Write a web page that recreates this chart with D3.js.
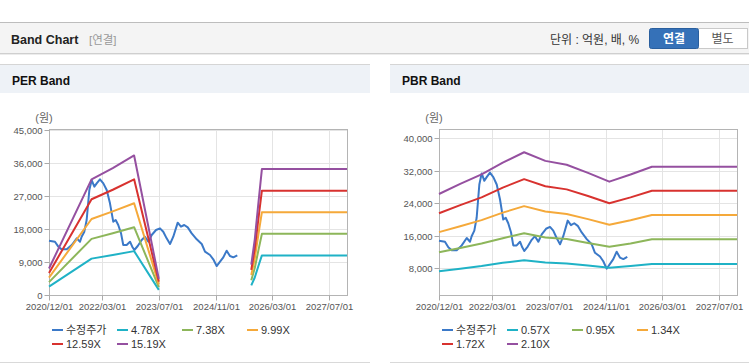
<!DOCTYPE html>
<html>
<head>
<meta charset="utf-8">
<script src="https://cdn.jsdelivr.net/npm/d3@7"></script>
<style>
  body { margin: 0; background: #fff; }
  svg { display: block; font-family: "Liberation Sans", Arial, "Noto Sans CJK KR", sans-serif; }
  .tick text { fill: #555; font-size: 9.5px; }
  .tick line { stroke: #aaa; }
  .legend text { fill: #333; font-size: 11px; }
</style>
</head>
<body>
<svg id="chart" width="749" height="364"></svg>
<script>
// x axis labels (shared by both charts)
const tickLabels = ["2020/12/01", "2022/03/01", "2023/07/01", "2024/11/01", "2026/03/01", "2027/07/01"];
const perTicks = [0, 9000, 18000, 27000, 36000, 45000];
const pbrTicks = [8000, 16000, 24000, 32000, 40000];

// 수정주가 (adjusted price)
const priceDates = ["2020-12-01","2021-01-21","2021-02-19","2021-03-20","2021-05-02","2021-06-14","2021-07-27","2021-08-24",
  "2021-09-07","2021-09-30","2021-10-20","2021-11-12","2021-12-02","2021-12-25","2022-01-14","2022-02-11","2022-03-12",
  "2022-04-10","2022-05-08","2022-06-05","2022-06-26","2022-07-18","2022-08-11","2022-08-30","2022-09-28","2022-10-27",
  "2022-11-15","2022-12-03","2023-01-01","2023-02-04","2023-03-04","2023-04-02","2023-05-01","2023-06-07","2023-07-11",
  "2023-08-08","2023-09-06","2023-10-05","2023-11-02","2023-12-10","2024-01-07","2024-02-04","2024-03-05","2024-04-08",
  "2024-05-21","2024-07-03","2024-07-31","2024-09-12","2024-10-10","2024-11-08","2024-12-07","2025-01-04","2025-02-02",
  "2025-03-02","2025-03-31","2025-05-04"];
const priceValues = [14800,14540,13180,12450,12450,13640,15450,14540,
  15900,17270,20450,28630,31360,29540,30450,31550,30450,
  28630,25000,20000,20450,19090,16820,13640,13640,14540,
  13180,12270,13360,15000,15900,14540,16360,17730,18180,
  17270,15450,13910,15900,19730,18630,19090,18450,16820,
  15180,13910,11820,10910,9730,7900,9090,10270,12090,
  10640,10270,10820];

// PER band lines (null = no data)
const perDates = ["2020-12-01","2021-12-01","2022-06-01","2022-12-01","2023-07-01","2024-06-01",
  "2025-09-01","2025-10-01","2025-11-01","2025-12-01","2027-12-01"];
const per478 = [2270, 9920, 10900, 11970, 1390, null, 2610, 4780, 7890, 10800, 10800];
const per738 = [3510, 15310, 16850, 18490, 2140, null, 4020, 7380, 12180, 16680, 16680];
const per999 = [4750, 20730, 22800, 25020, 2900, null, 5440, 9990, 16480, 22580, 22580];
const per1259 = [5980, 26120, 28700, 31540, 3650, null, 6860, 12590, 20770, 28450, 28450];
const per1519 = [7220, 31520, 34600, 38050, 4410, null, 8280, 15190, 25060, 34330, 34330];

// PBR band lines
const pbrDates = ["2020-12-01","2021-06-01","2021-12-01","2022-06-01","2022-12-01","2023-06-01",
  "2023-12-01","2024-06-01","2024-12-01","2025-06-01","2025-12-01","2027-12-01"];
const pbr057 = [7300, 7900, 8550, 9350, 10000, 9450, 9200, 8700, 8150, 8550, 9060, 9060];
const pbr095 = [11940, 13020, 14100, 15400, 16620, 15600, 15200, 14250, 13320, 14100, 15140, 15140];
const pbr134 = [16900, 18360, 19850, 21700, 23300, 22000, 21370, 20100, 18700, 19830, 21100, 21100];
const pbr172 = [21540, 23560, 25450, 27860, 29950, 28200, 27430, 25800, 24000, 25450, 27100, 27100];
const pbr210 = [26290, 28770, 31100, 34020, 36560, 34440, 33500, 31500, 29330, 31080, 33010, 33010];

const colors = {
  price: "#3b79c8", c1: "#1fb2c6", c2: "#8db65a", c3: "#f5a93a", c4: "#d8322f", c5: "#9550a0"
};

const svg = d3.select("#chart");
const parse = d3.timeParse("%Y-%m-%d");
const parseTick = d3.timeParse("%Y/%m/%d");

// ---------- top header ----------
let head = svg.append("g");
head.append("rect").attr("x", 0).attr("y", 22).attr("width", 749).attr("height", 31).attr("fill", "#f4f4f4");
head.append("line").attr("x1", 0).attr("x2", 749).attr("y1", 22.5).attr("y2", 22.5).attr("stroke", "#bdbdbd");
head.append("line").attr("x1", 0).attr("x2", 749).attr("y1", 53.5).attr("y2", 53.5).attr("stroke", "#cfcfcf");
head.append("line").attr("x1", 0).attr("x2", 749).attr("y1", 54.5).attr("y2", 54.5).attr("stroke", "#ececec");
head.append("text").attr("x", 11).attr("y", 43.5).attr("font-size", "12.5px").attr("font-weight", "bold")
  .attr("fill", "#222").text("Band Chart");
head.append("text").attr("x", 89).attr("y", 43.5).attr("font-size", "11.5px").attr("fill", "#999").text("[연결]");
head.append("text").attr("x", 550).attr("y", 43.5).attr("font-size", "12px").attr("fill", "#333").text("단위 : 억원, 배, %");
head.append("rect").attr("x", 697.5).attr("y", 28.5).attr("width", 50).attr("height", 20)
  .attr("fill", "#fff").attr("stroke", "#c9c9c9");
head.append("text").attr("x", 722.5).attr("y", 43).attr("text-anchor", "middle").attr("font-size", "12px")
  .attr("fill", "#555").text("별도");
head.append("rect").attr("x", 649.5).attr("y", 28.5).attr("width", 49).attr("height", 20).attr("rx", 2)
  .attr("fill", "#3571b8").attr("stroke", "#2a5f9e");
head.append("text").attr("x", 674).attr("y", 43).attr("text-anchor", "middle").attr("font-size", "12px")
  .attr("font-weight", "bold").attr("fill", "#fff").text("연결");

// ---------- panels ----------
function drawPanel(p) {
  let g = svg.append("g");
  let left = p.x0 + 49, right = p.x0 + 347, top = 129, bottom = 295;

  g.append("rect").attr("x", p.x0).attr("y", 64).attr("width", p.w).attr("height", 29).attr("fill", "#eef2f7");
  g.append("line").attr("x1", p.x0).attr("x2", p.x0 + p.w).attr("y1", 64.5).attr("y2", 64.5).attr("stroke", "#d5d5d5");
  g.append("line").attr("x1", p.x0).attr("x2", p.x0 + p.w).attr("y1", 362.5).attr("y2", 362.5).attr("stroke", "#d9d9d9");
  g.append("text").attr("x", p.x0 + 12).attr("y", 84.5).attr("font-size", "12px").attr("font-weight", "bold")
    .attr("fill", "#111").text(p.title);
  g.append("text").attr("x", p.x0 + 44).attr("y", 122).attr("text-anchor", "middle").attr("font-size", "11px")
    .attr("fill", "#666").text("(원)");

  let x = d3.scaleTime()
    .domain([parse("2020-12-01"), parse("2027-12-01")])
    .range([left, right]);
  let y = d3.scaleLinear().domain(p.yDomain).range(p.yRange);
  let xTicks = tickLabels.map(parseTick);

  // grid
  g.append("g").selectAll("line").data(xTicks).enter().append("line")
    .attr("x1", d => Math.round(x(d)) + 0.5).attr("x2", d => Math.round(x(d)) + 0.5)
    .attr("y1", top).attr("y2", bottom).attr("stroke", "#e4e4e4");
  g.append("g").selectAll("line").data(p.yTicks).enter().append("line")
    .attr("x1", left).attr("x2", right)
    .attr("y1", d => Math.round(y(d)) + 0.5).attr("y2", d => Math.round(y(d)) + 0.5).attr("stroke", "#e4e4e4");

  g.append("rect").attr("x", left + 0.5).attr("y", top + 0.5).attr("width", right - left).attr("height", bottom - top)
    .attr("fill", "none").attr("stroke", "#b4b4b4");

  let yAxis = g.append("g")
    .attr("transform", `translate(${left + 0.5},0.5)`)
    .call(d3.axisLeft(y).tickValues(p.yTicks).tickSize(5).tickPadding(2).tickFormat(d3.format(",")));
  yAxis.select(".domain").remove();
  yAxis.selectAll(".tick").attr("transform", d => `translate(0,${Math.round(y(d))})`);

  let xAxis = g.append("g")
    .attr("transform", `translate(0.5,${bottom + 0.5})`)
    .call(d3.axisBottom(x).tickValues(xTicks).tickSize(5).tickPadding(3).tickFormat(d3.timeFormat("%Y/%m/%d")));
  xAxis.select(".domain").remove();
  xAxis.selectAll(".tick").attr("transform", d => `translate(${Math.round(x(d))},0)`);

  let line = d3.line()
    .defined(d => d.v != null)
    .x(d => x(d.date))
    .y(d => y(d.v));

  let series = [{ name: "수정주가", color: colors.price, dates: priceDates, values: priceValues }].concat(p.bands);
  series.forEach(s => {
    let pts = s.dates.map((d, i) => ({ date: parse(d), v: s.values[i] }));
    g.append("path").datum(pts)
      .attr("d", line)
      .attr("fill", "none")
      .attr("stroke", s.color)
      .attr("stroke-width", 2)
      .attr("stroke-linejoin", "round");
  });

  // legend
  let lg = g.append("g").attr("class", "legend");
  series.forEach((s, i) => {
    let lx = p.x0 + 52 + (i % 4) * 65, ly = 330 + Math.floor(i / 4) * 14;
    lg.append("line").attr("x1", lx).attr("x2", lx + 11).attr("y1", ly).attr("y2", ly)
      .attr("stroke", s.color).attr("stroke-width", 2);
    lg.append("text").attr("x", lx + 14).attr("y", ly + 4).text(s.name);
  });
}

drawPanel({
  x0: 0, w: 370, title: "PER Band",
  yDomain: [0, 45000], yRange: [295, 130], yTicks: perTicks,
  bands: [
    { name: "4.78X", color: colors.c1, dates: perDates, values: per478 },
    { name: "7.38X", color: colors.c2, dates: perDates, values: per738 },
    { name: "9.99X", color: colors.c3, dates: perDates, values: per999 },
    { name: "12.59X", color: colors.c4, dates: perDates, values: per1259 },
    { name: "15.19X", color: colors.c5, dates: perDates, values: per1519 }
  ]
});

drawPanel({
  x0: 390, w: 359, title: "PBR Band",
  yDomain: [8000, 40000], yRange: [268.3, 138.3], yTicks: pbrTicks,
  bands: [
    { name: "0.57X", color: colors.c1, dates: pbrDates, values: pbr057 },
    { name: "0.95X", color: colors.c2, dates: pbrDates, values: pbr095 },
    { name: "1.34X", color: colors.c3, dates: pbrDates, values: pbr134 },
    { name: "1.72X", color: colors.c4, dates: pbrDates, values: pbr172 },
    { name: "2.10X", color: colors.c5, dates: pbrDates, values: pbr210 }
  ]
});
</script>
</body>
</html>
